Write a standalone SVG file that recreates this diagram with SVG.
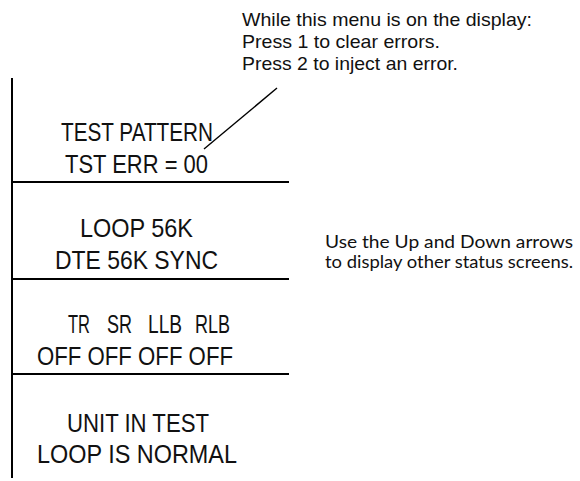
<svg xmlns="http://www.w3.org/2000/svg" width="580" height="481" viewBox="0 0 580 481">
<style>
.ln{stroke:#000;stroke-width:2;fill:none}
.lead{stroke:#000;stroke-width:1.4;fill:none}
.disp{font-family:"Liberation Sans",Arial,sans-serif;font-size:25px;fill:#111}
.note{font-family:"Liberation Sans",Arial,sans-serif;font-size:19px;fill:#111}
.hint{font-family:Lato,"Liberation Sans",sans-serif;font-size:18px;fill:#111}
</style>
<rect width="580" height="481" fill="#fff"/>
<g id="connectors">
<line class="ln" x1="12" y1="78" x2="12" y2="478"/>
<line class="ln" x1="12" y1="182" x2="289" y2="182"/>
<line class="ln" x1="12" y1="279" x2="289" y2="279"/>
<line class="ln" x1="12" y1="374" x2="289" y2="374"/>
<line class="lead" x1="277" y1="88" x2="204" y2="149"/>
</g>
<g id="screen1">
<text class="disp" x="61" y="141" textLength="152" lengthAdjust="spacingAndGlyphs">TEST PATTERN</text>
<text class="disp" x="65" y="173" textLength="143" lengthAdjust="spacingAndGlyphs">TST ERR = 00</text>
</g>
<g id="screen2">
<text class="disp" x="80" y="237" textLength="113" lengthAdjust="spacingAndGlyphs">LOOP 56K</text>
<text class="disp" x="55" y="269" textLength="163" lengthAdjust="spacingAndGlyphs">DTE 56K SYNC</text>
</g>
<g id="screen3">
<text class="disp" y="333"><tspan x="68" textLength="22" lengthAdjust="spacingAndGlyphs">TR</tspan> <tspan x="107" textLength="25" lengthAdjust="spacingAndGlyphs">SR</tspan> <tspan x="148" textLength="34" lengthAdjust="spacingAndGlyphs">LLB</tspan> <tspan x="195" textLength="35" lengthAdjust="spacingAndGlyphs">RLB</tspan></text>
<text class="disp" x="37" y="365" textLength="196" lengthAdjust="spacingAndGlyphs">OFF OFF OFF OFF</text>
</g>
<g id="screen4">
<text class="disp" x="67" y="432" textLength="142" lengthAdjust="spacingAndGlyphs">UNIT IN TEST</text>
<text class="disp" x="37" y="463" textLength="200" lengthAdjust="spacingAndGlyphs">LOOP IS NORMAL</text>
</g>
<g id="note">
<text class="note" x="242" y="26" textLength="290" lengthAdjust="spacingAndGlyphs">While this menu is on the display:</text>
<text class="note" x="242" y="48" textLength="198" lengthAdjust="spacingAndGlyphs">Press 1 to clear errors.</text>
<text class="note" x="242" y="70" textLength="216" lengthAdjust="spacingAndGlyphs">Press 2 to inject an error.</text>
</g>
<g id="hint">
<text class="hint" x="325" y="248" textLength="248" lengthAdjust="spacingAndGlyphs">Use the Up and Down arrows</text>
<text class="hint" x="325" y="268" textLength="248" lengthAdjust="spacingAndGlyphs">to display other status screens.</text>
</g>
</svg>
